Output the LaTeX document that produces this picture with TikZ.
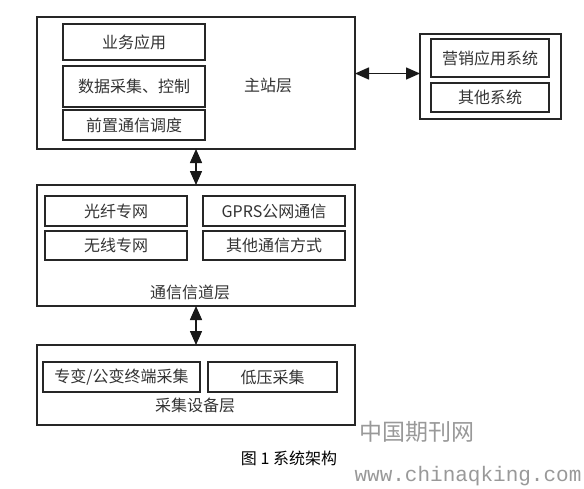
\documentclass[tikz,border=0pt]{standalone}
\usepackage{fontspec}
\setmainfont{Noto Sans CJK SC}
\newfontfamily\wmmono{Liberation Mono}
\usetikzlibrary{arrows.meta}
\begin{document}
\begin{tikzpicture}[x=1pt,y=-1pt,
  box/.style={draw=black!85,line width=1.3pt,rectangle,inner sep=0pt,outer sep=0pt},
  inbox/.style={box,font=\fontsize{16}{16}\selectfont,text=black!80},
  lbl/.style={font=\fontsize{16}{16}\selectfont,text=black!80,inner sep=0pt},
  dbl/.style={{Triangle[width=12pt,length=14pt]}-{Triangle[width=12pt,length=14pt]},line width=1.5pt,draw=black!90},
  wm/.style={text=black!40,inner sep=0pt}]
\useasboundingbox (0,0) rectangle (584,488);
% main station layer
\node[box,minimum width=318pt,minimum height=132pt] (main) at (196,83) {};
\node[inbox,minimum width=142pt,minimum height=36pt] (yw) at (134,42) {业务应用};
\node[inbox,minimum width=142pt,minimum height=41pt] (sj) at (134,86.5) {数据采集、控制};
\node[inbox,minimum width=142pt,minimum height=30pt] (qz) at (134,125) {前置通信调度};
\node[lbl] (mainlbl) at (268,85) {主站层};
% right systems
\node[box,minimum width=141pt,minimum height=85pt] (rt) at (490.5,76.5) {};
\node[inbox,minimum width=118pt,minimum height=38pt] (yx) at (490,58) {营销应用系统};
\node[inbox,minimum width=118pt,minimum height=29pt] (qt) at (490,97.5) {其他系统};
% communication layer
\node[box,minimum width=318pt,minimum height=121pt] (comm) at (196,245.5) {};
\node[inbox,minimum width=142pt,minimum height=30pt] (gx) at (116,211) {光纤专网};
\node[inbox,minimum width=142pt,minimum height=30pt] (gprs) at (274,211) {GPRS公网通信};
\node[inbox,minimum width=142pt,minimum height=29pt] (wx) at (116,245.5) {无线专网};
\node[inbox,minimum width=142pt,minimum height=29pt] (qttx) at (274,245.5) {其他通信方式};
\node[lbl] (commlbl) at (190,292) {通信信道层};
% collection layer
\node[box,minimum width=318pt,minimum height=80pt] (coll) at (196,385) {};
\node[inbox,minimum width=157pt,minimum height=30pt] (zb) at (121.5,377) {专变/公变终端采集};
\node[inbox,minimum width=129pt,minimum height=30pt] (dy) at (272.5,377) {低压采集};
\node[lbl] (colllbl) at (195,405) {采集设备层};
% connectors
\draw[dbl] (main.south) -- (comm.north);
\draw[dbl] (comm.south) -- (coll.north);
\draw[dbl] ([yshift=3pt]rt.west -| main.east) -- ([yshift=3pt]rt.west);
% caption and watermark
\node[inner sep=0pt,font=\fontsize{16}{16}\selectfont] (cap) at (289,458) {图 1 系统架构};
\node[wm,font=\fontsize{23}{23}\selectfont] (wm1) at (417,432) {中国期刊网};
\node[wm,font=\fontsize{21}{21}\selectfont\wmmono] (wm2) at (468,476) {www.chinaqking.com};
\end{tikzpicture}
\end{document}
